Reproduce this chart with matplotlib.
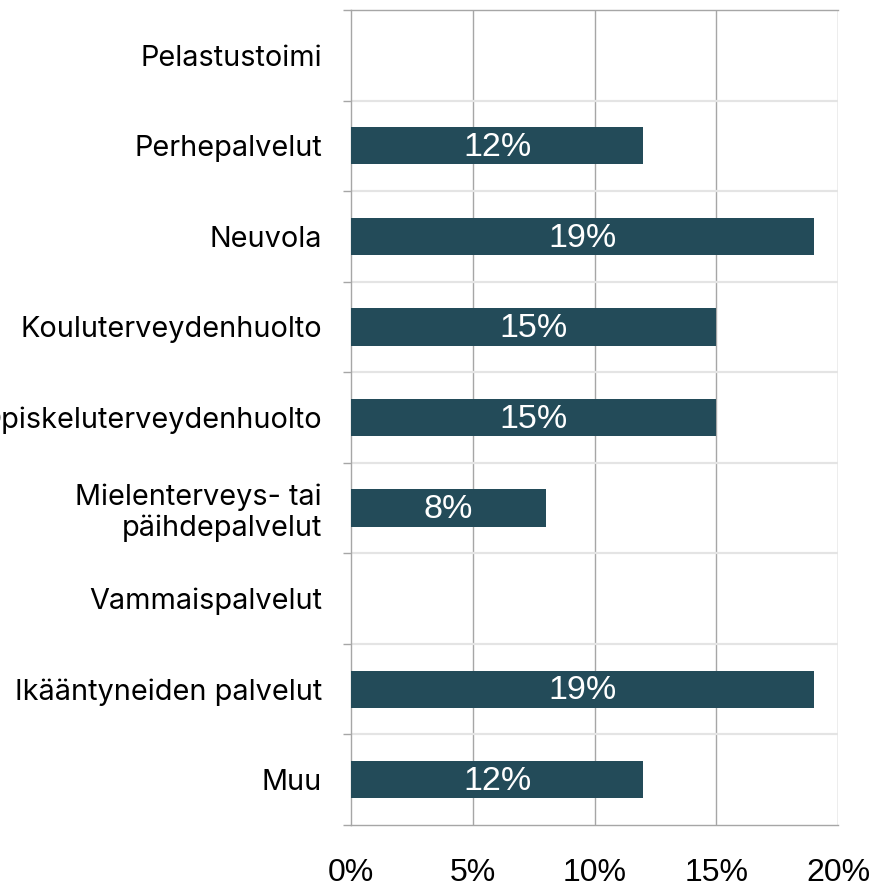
import numpy as np
import matplotlib
matplotlib.use('Agg')
import matplotlib.pyplot as plt
from matplotlib.ticker import FixedLocator, PercentFormatter

# data
categories = ['Pelastustoimi', 'Perhepalvelut', 'Neuvola', 'Kouluterveydenhuolto',
              'Opiskeluterveydenhuolto', 'Mielenterveys- tai\npäihdepalvelut',
              'Vammaispalvelut', 'Ikääntyneiden palvelut', 'Muu']
values = [0, 12, 19, 15, 15, 8, 0, 19, 12]
xticks = [0, 5, 10, 15, 20]

bar_color = '#234B59'
grid_v = '#A6A6A6'
grid_h = '#E4E4E4'

fig = plt.figure(figsize=(8.77, 8.88), dpi=100)
ax = fig.add_axes([351/877, 1 - 825/888, (838 - 351)/877, (825 - 10)/888])

n = len(categories)
y = np.arange(n)
ax.barh(y, values, height=0.41, color=bar_color, zorder=3)
for yi, v in zip(y, values):
    if v > 0:
        ax.text(v / 2, yi + 0.02, f'{v}%', ha='center', va='center', color='white',
                fontsize=24.5, family='Liberation Sans', zorder=4)

ax.set_xlim(0, 20)
ax.set_ylim(n - 0.5, -0.5)

# vertical grid
ax.xaxis.set_major_locator(FixedLocator(xticks))
ax.xaxis.set_major_formatter(PercentFormatter(decimals=0))
for t in xticks[1:]:
    ax.axvline(t, color=grid_v, lw=1.0, zorder=1)

# horizontal separators between categories
bounds = np.arange(-0.5, n, 1.0)
for b in bounds[1:-1]:
    ax.axhline(b, color=grid_h, lw=1.6, zorder=1)

ax.set_yticks(y)
ax.set_yticklabels(categories, fontsize=20.8, family='Inter', linespacing=1.15)
ax.yaxis.set_minor_locator(FixedLocator(bounds))
ax.tick_params(axis='y', which='major', length=0, pad=21)
ax.tick_params(axis='y', which='minor', length=6, color=grid_v, width=1.0)
ax.tick_params(axis='x', length=0, pad=24, labelsize=23)
for lbl in ax.get_xticklabels():
    lbl.set_family('Liberation Sans')

for s in ['right']:
    ax.spines[s].set_visible(False)
for s in ['left', 'top', 'bottom']:
    ax.spines[s].set_color(grid_v)
    ax.spines[s].set_linewidth(1.0)

fig.savefig('out.png', dpi=100)
